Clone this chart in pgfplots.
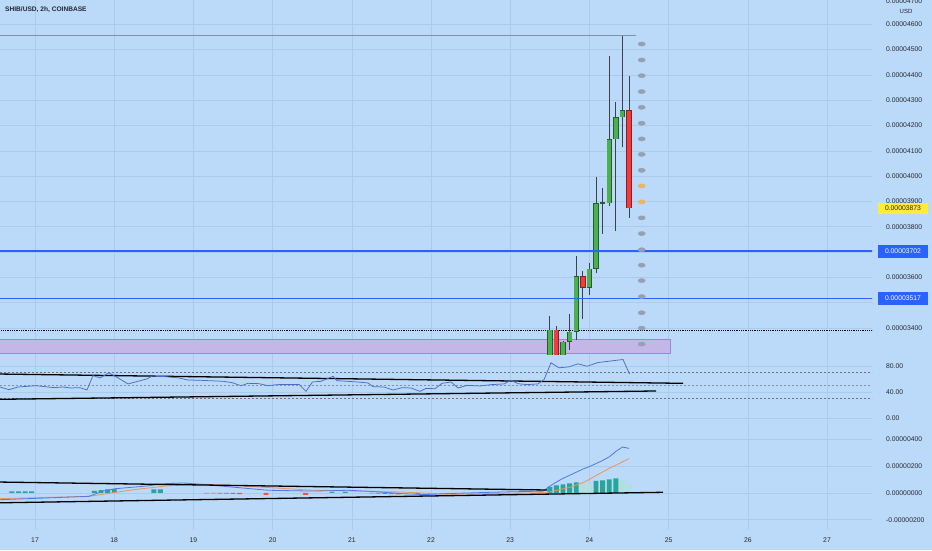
\documentclass[border=0pt]{standalone}
\usepackage{fontspec}
\setmainfont{Liberation Sans}
\usepackage{pgfplots}
\pgfplotsset{compat=1.18}
\definecolor{bg}{RGB}{187,217,248}
\definecolor{gridc}{RGB}{172,202,236}
\definecolor{labc}{RGB}{35,40,50}
\definecolor{upc}{RGB}{76,175,80}
\definecolor{upedge}{RGB}{35,95,45}
\definecolor{dnc}{RGB}{242,60,60}
\definecolor{dnedge}{RGB}{130,35,35}
\definecolor{wickc}{RGB}{60,65,75}
\definecolor{lineblue}{RGB}{41,98,255}
\definecolor{rsic}{RGB}{74,110,200}
\definecolor{macdc}{RGB}{80,120,230}
\definecolor{sigc}{RGB}{235,150,90}
\definecolor{tealc}{RGB}{38,166,154}
\definecolor{ltealc}{RGB}{178,223,219}
\definecolor{redh}{RGB}{239,83,80}
\definecolor{dotg}{RGB}{150,160,178}
\definecolor{dotor}{RGB}{240,180,90}
\definecolor{boxfill}{RGB}{197,182,232}
\definecolor{boxdraw}{RGB}{160,130,215}
\definecolor{highc}{RGB}{130,145,165}
\definecolor{yel}{RGB}{255,235,59}
\definecolor{dashc}{RGB}{110,115,130}
\pgfplotsset{pane/.style={
  scale only axis, width=872pt, xmin=16.558, xmax=27.568,
  axis x line*=bottom, axis y line*=right, axis line style={draw=none},
  major tick length=0pt, grid=major, major grid style={gridc, line width=0.6pt},
  xtick={17,18,19,20,21,22,23,24,25,26,27},
  scaled y ticks=false, scaled x ticks=false,
  /pgf/number format/assume math mode=true,
  yticklabel style={anchor=west, inner sep=0pt, xshift=14pt, font=\fontsize{6.8}{8}\selectfont, text=labc},
}}
\begin{document}
\begin{tikzpicture}
\fill[bg] (0pt,0pt) rectangle (932pt,-550pt);
\path[use as bounding box] (0pt,0pt) rectangle (932pt,-550pt);
% ---------------- price pane
\begin{axis}[pane, anchor=north west, at={(0pt,0pt)}, height=354pt,
  ymin=0.00003297, ymax=0.00004696, xticklabels={},
  ytick={0.000034,0.000035,0.000036,0.000037,0.000038,0.000039,0.000040,0.000041,0.000042,0.000043,0.000044,0.000045,0.000046},
  yticklabel style={/pgf/number format/fixed, /pgf/number format/precision=8, /pgf/number format/fixed zerofill}]
\addplot[fill=boxfill, draw=boxdraw, line width=0.8pt] coordinates {(16.3,0.00003301) (25.02,0.00003301) (25.02,0.00003353) (16.3,0.00003353)} -- cycle;
\addplot[black, line width=0.8pt, densely dotted] coordinates {(16.3,0.00003392) (27.8,0.00003392)};
\addplot[highc, line width=0.9pt] coordinates {(16.3,0.00004554) (24.59,0.00004554)};
% wicks
\addplot[wickc, line width=0.9pt, unbounded coords=jump] coordinates {
(23.5,0.00003250) (23.5,0.00003447) (23.5,nan)
(23.5833,0.00003260) (23.5833,0.00003408) (23.5833,nan)
(23.6667,0.00003270) (23.6667,0.00003350) (23.6667,nan)
(23.75,0.00003313) (23.75,0.00003455) (23.75,nan)
(23.8333,0.00003353) (23.8333,0.00003684) (23.8333,nan)
(23.9167,0.00003436) (23.9167,0.00003625) (23.9167,nan)
(24.0,0.00003530) (24.0,0.00003657) (24.0,nan)
(24.0833,0.00003617) (24.0833,0.00003996) (24.0833,nan)
(24.1667,0.00003771) (24.1667,0.00003953) (24.1667,nan)
(24.25,0.00003882) (24.25,0.00004474) (24.25,nan)
(24.3333,0.00003783) (24.3333,0.00004292) (24.3333,nan)
(24.4167,0.00004114) (24.4167,0.00004554) (24.4167,nan)
(24.5,0.00003834) (24.5,0.00004395)};
% green bodies
\addplot[upedge, line width=5.4pt, unbounded coords=jump] coordinates {
(23.5,0.00003280) (23.5,0.00003392) (23.5,nan)
(23.6667,0.00003290) (23.6667,0.00003345) (23.6667,nan)
(23.75,0.00003345) (23.75,0.00003384) (23.75,nan)
(23.8333,0.00003384) (23.8333,0.00003605) (23.8333,nan)
(24.0,0.00003558) (24.0,0.00003633) (24.0,nan)
(24.0833,0.00003633) (24.0833,0.00003893) (24.0833,nan)
(24.1667,0.00003891) (24.1667,0.00003896) (24.1667,nan)
(24.25,0.00003893) (24.25,0.00004146) (24.25,nan)
(24.3333,0.00004146) (24.3333,0.00004233) (24.3333,nan)
(24.4167,0.00004233) (24.4167,0.00004260)};
\addplot[upc, line width=3.9pt, unbounded coords=jump] coordinates {
(23.5,0.00003280) (23.5,0.00003390) (23.5,nan)
(23.6667,0.00003290) (23.6667,0.00003343) (23.6667,nan)
(23.75,0.00003347) (23.75,0.00003382) (23.75,nan)
(23.8333,0.00003386) (23.8333,0.00003603) (23.8333,nan)
(24.0,0.00003560) (24.0,0.00003631) (24.0,nan)
(24.0833,0.00003635) (24.0833,0.00003891) (24.0833,nan)
(24.25,0.00003895) (24.25,0.00004144) (24.25,nan)
(24.3333,0.00004148) (24.3333,0.00004231) (24.3333,nan)
(24.4167,0.00004235) (24.4167,0.00004258)};
% red bodies
\addplot[dnedge, line width=5.4pt, unbounded coords=jump] coordinates {
(23.5833,0.00003280) (23.5833,0.00003392) (23.5833,nan)
(23.9167,0.00003558) (23.9167,0.00003605) (23.9167,nan)
(24.5,0.00003873) (24.5,0.00004260)};
\addplot[dnc, line width=3.9pt, unbounded coords=jump] coordinates {
(23.5833,0.00003280) (23.5833,0.00003390) (23.5833,nan)
(23.9167,0.00003560) (23.9167,0.00003603) (23.9167,nan)
(24.5,0.00003875) (24.5,0.00004258)};
% key levels
\addplot[lineblue, line width=1.6pt] coordinates {(16.3,0.00003703) (27.8,0.00003703)};
\addplot[lineblue, line width=1.6pt] coordinates {(16.3,0.00003517) (27.8,0.00003517)};
% dots column
\addplot[dotg, only marks, mark=*, mark size=2.1pt, mark options={xscale=1.7, draw=dotg, fill=dotg}] coordinates {
(24.66,0.00004522) (24.66,0.00004459) (24.66,0.00004397) (24.66,0.00004334) (24.66,0.00004272)
(24.66,0.00004209) (24.66,0.00004147) (24.66,0.00004086) (24.66,0.00004023)
(24.66,0.00003835) (24.66,0.00003773) (24.66,0.00003709) (24.66,0.00003648) (24.66,0.00003587)
(24.66,0.00003524) (24.66,0.00003460) (24.66,0.00003399) (24.66,0.00003336)};
\addplot[dotor, only marks, mark=*, mark size=2.1pt, mark options={xscale=1.7, draw=dotor, fill=dotor}] coordinates {
(24.66,0.00003961) (24.66,0.00003898)};
\coordinate (L3873) at (axis cs:24.5,0.00003873);
\coordinate (L3702) at (axis cs:24.5,0.00003703);
\coordinate (L3517) at (axis cs:24.5,0.00003517);
\end{axis}
% ---------------- RSI pane
\begin{axis}[pane, anchor=north west, at={(0pt,-354pt)}, height=72pt,
  ymin=-11.8, ymax=98.2, ytick={0,40,80}, xticklabels={},
  yticklabel style={/pgf/number format/fixed, /pgf/number format/precision=2, /pgf/number format/fixed zerofill}]
\addplot[dashc, line width=0.6pt, dash pattern=on 2pt off 2pt] coordinates {(16.3,70) (27.8,70)};
\addplot[dashc!70!bg, line width=0.6pt, dash pattern=on 2pt off 2pt] coordinates {(16.3,50) (27.8,50)};
\addplot[dashc, line width=0.6pt, dash pattern=on 2pt off 2pt] coordinates {(16.3,30) (27.8,30)};
\addplot[black, line width=1.3pt] coordinates {(16.558,67.6) (25.182,53.4)};
\addplot[black, line width=1.3pt] coordinates {(16.558,29.0) (24.841,41.7)};
\addplot[rsic, line width=0.75pt] coordinates {
(16.558,47.8) (16.672,43.7) (16.785,47.8) (17.013,49.8) (17.126,48.3) (17.240,46.8) (17.347,47.8) (17.454,46.3) (17.568,46.8) (17.656,43.2) (17.732,65.2) (17.821,61.7) (17.934,69.4) (18.048,61.7) (18.174,52.5) (18.300,56.5) (18.414,60.2) (18.477,64.2) (18.641,63.7) (18.818,61.7) (18.925,58.6) (19.096,58.0) (19.374,56.5) (19.487,54.5) (19.601,49.8) (19.689,53.4) (19.828,52.9) (19.942,49.8) (20.055,51.4) (20.333,51.8) (20.422,41.1) (20.504,55.5) (20.611,56.5) (20.763,64.2) (20.813,57.5) (21.066,55.5) (21.204,54.0) (21.268,48.3) (21.407,47.8) (21.520,43.2) (21.634,46.8) (21.747,46.3) (21.861,41.1) (21.937,45.7) (22.051,45.2) (22.139,53.4) (22.253,55.5) (22.341,46.3) (22.455,50.3) (22.619,49.4) (22.758,51.4) (22.922,52.5) (23.010,58.0) (23.098,52.9) (23.212,51.4) (23.351,52.5) (23.427,59.1) (23.515,84.8) (23.616,77.1) (23.742,78.6) (23.856,83.2) (23.970,79.5) (24.109,85.2) (24.247,87.2) (24.424,89.8) (24.506,67.8)};
\end{axis}
% ---------------- MACD pane
\begin{axis}[pane, anchor=north west, at={(0pt,-426pt)}, height=104pt,
  ymin=-0.00000276, ymax=0.00000496,
  ytick={-0.000002,0,0.000002,0.000004},
  yticklabel style={/pgf/number format/fixed, /pgf/number format/precision=8, /pgf/number format/fixed zerofill},
  xticklabel style={anchor=center, yshift=-10pt, inner sep=0pt, font=\fontsize{6.8}{8}\selectfont, text=labc}]
\addplot[ybar, bar width=0.062, bar shift=0pt, fill=tealc, draw=none] coordinates {
(16.708,0.00000010) (16.792,0.00000010) (16.875,0.00000010) (16.958,0.00000010)
(17.75,0.00000015) (17.833,0.00000020) (17.917,0.00000026) (18.0,0.00000030)
(18.5,0.00000025) (18.583,0.00000025) (20.75,0.00000008) (20.917,0.00000008)
(23.5,0.00000045) (23.5833,0.00000056) (23.6667,0.00000063) (23.75,0.00000070) (23.8333,0.00000078)
(24.0833,0.00000089) (24.1667,0.00000093) (24.25,0.00000100) (24.3333,0.00000108)};
\addplot[ybar, bar width=0.062, bar shift=0pt, fill=ltealc, draw=none] coordinates {
(22.25,0.00000003) (22.333,0.00000003) (22.417,0.00000003) (22.75,0.00000004) (22.833,0.00000004)
(23.9167,0.00000074) (24.0,0.00000067) (24.4167,0.00000097) (24.5,0.00000067)};
\addplot[ybar, bar width=0.062, bar shift=0pt, fill=redh, draw=none] coordinates {
(19.167,-0.00000004) (19.25,-0.00000004) (19.333,-0.00000005) (19.417,-0.00000006) (19.5,-0.00000008) (19.583,-0.00000010)
(19.917,-0.00000015) (20.417,-0.00000015)
(21.25,-0.00000004) (21.333,-0.00000006) (21.417,-0.00000008) (21.5,-0.00000010) (21.583,-0.00000012) (21.833,-0.00000012)};
\addplot[sigc, line width=0.8pt] coordinates {
(16.558,-0.00000043) (17.682,-0.00000026) (18.250,0.00000024) (18.925,0.00000068) (19.487,0.00000056) (20.504,0.00000019) (21.634,0.00000006) (22.189,-0.00000011) (23.326,0.00000000) (23.5,0.00000006) (23.5833,0.00000018) (23.6667,0.00000030) (23.75,0.00000040) (23.8333,0.00000058) (23.9167,0.00000075) (24.0,0.00000100) (24.0833,0.00000128) (24.1667,0.00000155) (24.25,0.00000182) (24.3333,0.00000205) (24.4167,0.00000230) (24.5,0.00000254)};
\addplot[macdc, line width=0.8pt] coordinates {
(16.558,-0.00000051) (17.682,-0.00000026) (17.859,0.00000013) (18.023,0.00000031) (18.414,0.00000051) (18.641,0.00000068) (18.869,0.00000073) (19.096,0.00000063) (19.487,0.00000043) (19.942,0.00000019) (20.504,0.00000013) (20.952,0.00000019) (21.236,0.00000011) (21.634,-0.00000006) (21.912,-0.00000013) (22.189,-0.00000006) (22.758,0.00000004) (23.417,0.00000013) (23.5,0.00000050) (23.5833,0.00000080) (23.6667,0.00000108) (23.75,0.00000130) (23.8333,0.00000153) (23.9167,0.00000176) (24.0,0.00000195) (24.0833,0.00000217) (24.1667,0.00000240) (24.25,0.00000267) (24.3333,0.00000307) (24.4167,0.00000340) (24.5,0.00000330)};
\addplot[black, line width=1.3pt] coordinates {(16.558,0.00000080) (23.465,0.00000021)};
\addplot[black, line width=1.3pt] coordinates {(16.558,-0.00000074) (24.929,0.00000004)};
\end{axis}
% ---------------- overlays on the price scale
\node[anchor=west, inner sep=0pt, font=\fontsize{6.8}{8}\selectfont, text=labc] at (886pt,-1pt) {0.00004700};
\node[inner sep=0pt, font=\fontsize{6}{7}\selectfont, text=labc] at (906pt,-11pt) {USD};
\node[anchor=west, inner sep=0pt, font=\bfseries\fontsize{6.6}{8}\selectfont, text=labc] at (5pt,-10pt) {SHIB/USD, 2h, COINBASE};
\node[fill=yel, inner sep=0pt, minimum width=50pt, minimum height=11pt, font=\fontsize{6.8}{8}\selectfont, text=labc] at (903pt,0pt |- L3873) {0.00003873};
\node[fill=lineblue, inner sep=0pt, minimum width=50pt, minimum height=13pt, font=\fontsize{6.8}{8}\selectfont, text=white] at (903pt,0pt |- L3702) {0.00003702};
\node[fill=lineblue, inner sep=0pt, minimum width=50pt, minimum height=13pt, font=\fontsize{6.8}{8}\selectfont, text=white] at (903pt,0pt |- L3517) {0.00003517};
\end{tikzpicture}
\end{document}
